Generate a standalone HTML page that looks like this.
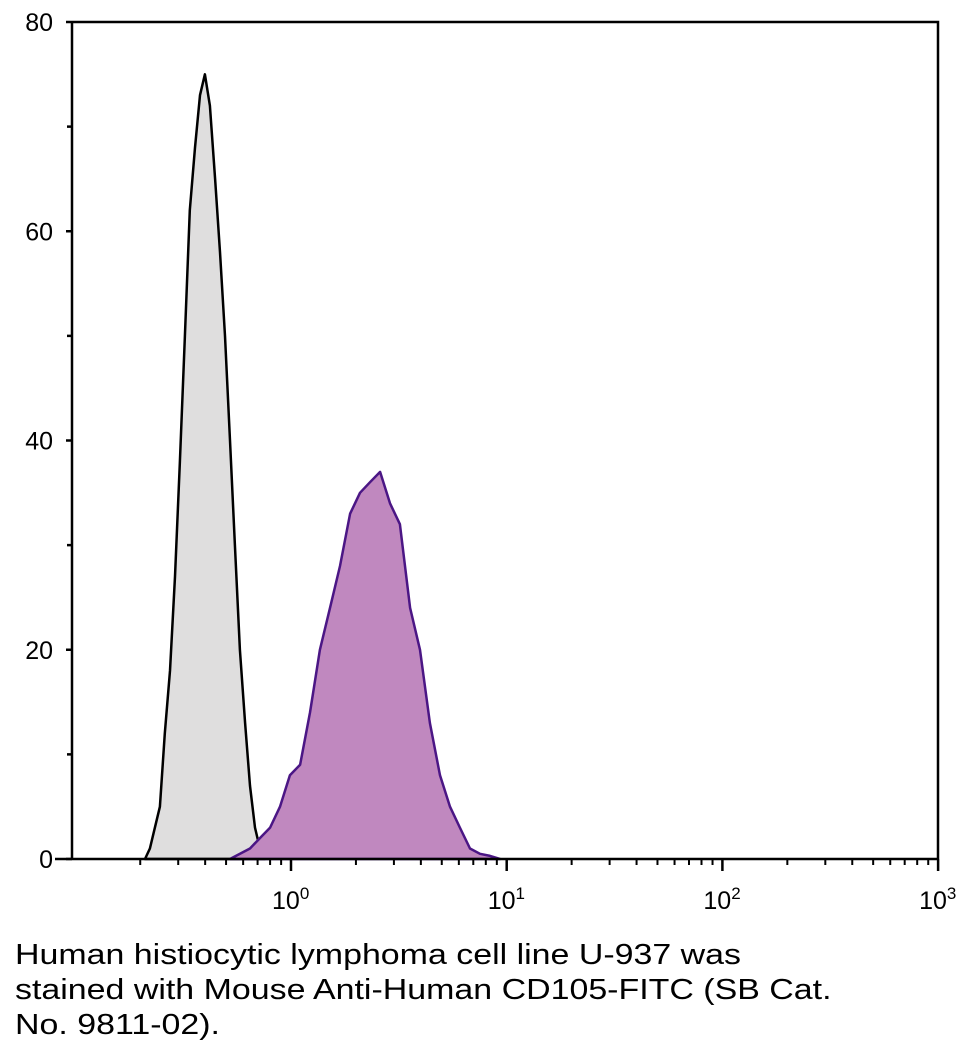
<!DOCTYPE html>
<html><head><meta charset="utf-8"><style>
body{margin:0;background:#fff;width:972px;height:1057px;overflow:hidden;font-family:"Liberation Sans",sans-serif}
#cap{position:absolute;left:15px;top:938px;font-size:29px;line-height:35px;color:#000;width:950px;transform:scaleX(1.17);transform-origin:0 0;white-space:nowrap}
</style></head><body>
<svg id="chart" width="972" height="930" style="position:absolute;left:0;top:0"></svg>
<div id="cap">Human histiocytic lymphoma cell line U-937 was<br>stained with Mouse Anti-Human CD105-FITC (SB Cat.<br>No. 9811-02).</div>
<script>
const grayLog=[-0.677,-0.654,-0.631,-0.608,-0.585,-0.561,-0.538,-0.515,-0.492,-0.469,-0.445,-0.422,-0.399,-0.376,-0.352,-0.329,-0.306,-0.283,-0.260,-0.237,-0.213,-0.190,-0.167,-0.144,-0.121];
const grayCounts=[0,1,3,5,12,18,27,38,50,62,68,73,75,72,65,58,50,40,30,20,13,7,3,1,0];
const purpleLog=[-0.283,-0.190,-0.144,-0.097,-0.051,-0.005,0.042,0.088,0.134,0.181,0.227,0.274,0.320,0.366,0.413,0.459,0.505,0.552,0.598,0.644,0.691,0.737,0.783,0.830,0.876,0.923,0.969];
const purpleCounts=[0,1,2,3,5,8,9,14,20,24,28,33,35,36,37,34,32,24,20,13,8,5,3,1,0.5,0.3,0];
const yTicks=[0,20,40,60,80];
const xDecades=[0,1,2,3];
const NS="http://www.w3.org/2000/svg";
const svg=document.getElementById('chart');
const L=72,R=938,T=22,B=859,X0=291,DEC=215.7;
const xs=l=>X0+l*DEC, ys=v=>B-(v/80)*(B-T);
function mk(tag,attrs,parent){const e=document.createElementNS(NS,tag);for(const k in attrs)e.setAttribute(k,attrs[k]);(parent||svg).appendChild(e);return e;}
function hist(logs,counts,fill,stroke,name){
  let d='M'+xs(logs[0])+','+B;
  logs.forEach((l,i)=>{d+=' L'+xs(l).toFixed(1)+','+ys(counts[i]).toFixed(1);});
  d+=' L'+xs(logs[logs.length-1])+','+B+' Z';
  const p=mk('path',{d:d,fill:fill,stroke:stroke,'stroke-width':2.5,'stroke-linejoin':'round'});
  
  
}
hist(grayLog,grayCounts,'#dfdede','#000','isotype-histogram');
hist(purpleLog,purpleCounts,'#c088bf','#4b1685','cd105-histogram');
const ax=mk('g',{stroke:'#000','stroke-width':2.5,fill:'none'});


mk('path',{d:`M${L},${T} H${R} V${B} M${L},${T} V${B} M55,${B} H${R}`},ax);
yTicks.forEach(v=>{
  mk('line',{x1:L-6,x2:L,y1:ys(v),y2:ys(v)},ax);
  const t=mk('text',{x:L-19,y:ys(v)+9,'text-anchor':'end','font-size':25,fill:'#000',stroke:'none'});
  t.textContent=v;
  
  
});
[10,30,50,70].forEach(v=>mk('line',{x1:L-5,x2:L,y1:ys(v),y2:ys(v)},ax));
for(let d=-1;d<3;d++){for(let m=2;m<10;m++){const x=xs(d+Math.log10(m));if(x>L+10)mk('line',{x1:x,x2:x,y1:B,y2:B+6,'stroke-width':2},ax);}}
xDecades.forEach(d=>{
  const x=xs(d);
  mk('line',{x1:x,x2:x,y1:B,y2:B+12},ax);
  const t=mk('text',{x:x-19,y:909,'font-size':25,fill:'#000',stroke:'none'});
  t.innerHTML='10<tspan dy="-10" font-size="17">'+d+'</tspan>';
  
  
});
</script>
</body></html>
